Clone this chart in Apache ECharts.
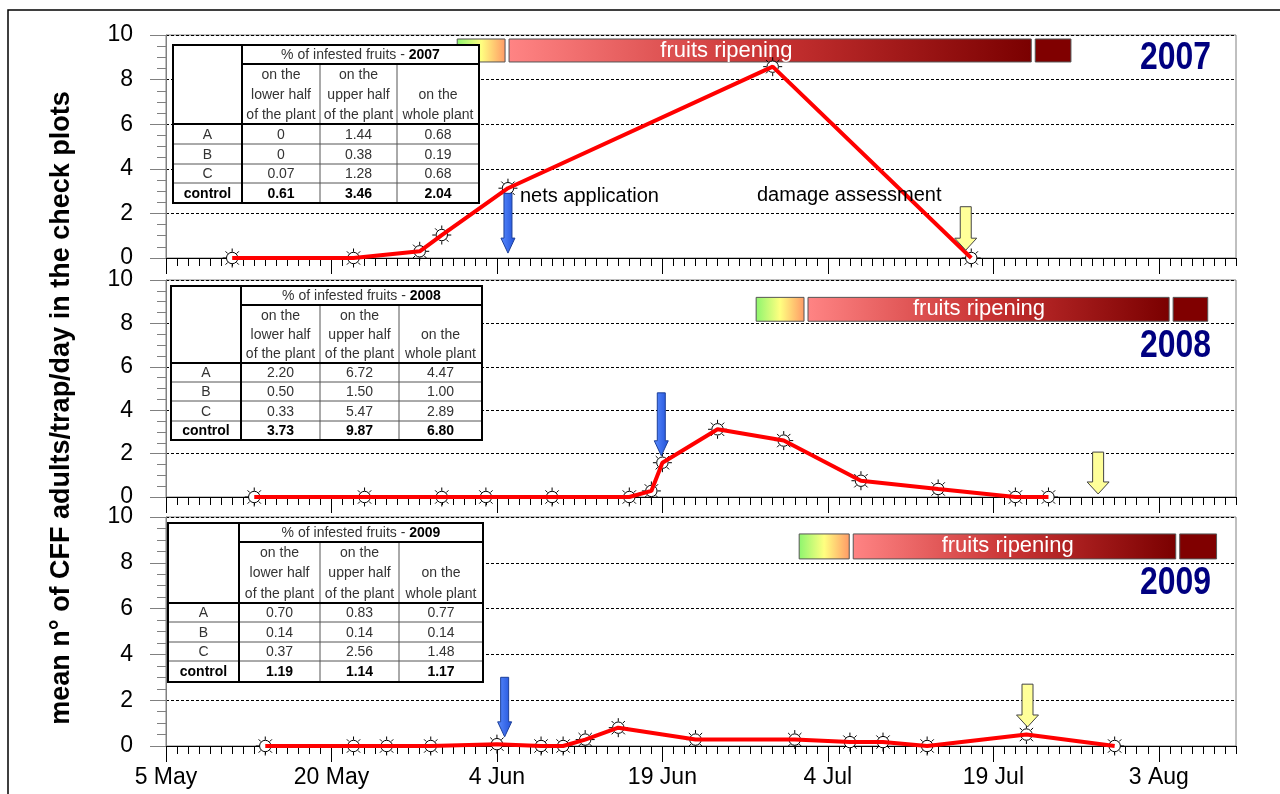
<!DOCTYPE html>
<html>
<head>
<meta charset="utf-8">
<script src="https://cdn.jsdelivr.net/npm/echarts@6/dist/echarts.min.js"></script>
<style>
  html, body { margin: 0; background: #fff; }
  #chart { width: 1280px; height: 794px; }
</style>
</head>
<body>
<div id="chart"></div>
<script>
// season day 0 = 5 May
var tickDays = [0, 15, 30, 45, 60, 75, 90];
var tickLabels = ['5 May', '20 May', '4 Jun', '19 Jun', '4 Jul', '19 Jul', '3 Aug'];

// mean n. of CFF adults/trap/day
var dates2007 = ['05-11', '05-22', '05-28', '05-30', '06-05', '06-29', '07-17'];
var cff2007 = [0, 0, 0.3, 1.03, 3.13, 8.58, 0];
var dates2008 = ['05-13', '05-23', '05-30', '06-03', '06-09', '06-16', '06-18', '06-19', '06-24', '06-30', '07-07', '07-14', '07-21', '07-24'];
var cff2008 = [0, 0, 0, 0, 0, 0, 0.28, 1.58, 3.12, 2.6, 0.75, 0.37, 0, 0];
var dates2009 = ['05-14', '05-22', '05-25', '05-29', '06-04', '06-08', '06-10', '06-12', '06-15', '06-22', '07-01', '07-06', '07-09', '07-13', '07-22', '07-30'];
var cff2009 = [0, 0, 0, 0, 0.08, 0, 0, 0.28, 0.8, 0.28, 0.28, 0.17, 0.17, 0, 0.5, 0];

// fruits ripening bar: [green start, red start, dark start, end] (days), [y low, y high], label day
var ripe2007 = [26.4, 31.1, 78.8, 82.4], ripeY2007 = [8.79, 9.82], ripeText2007 = 50.8;
var ripe2008 = [53.5, 58.2, 91.3, 94.8], ripeY2008 = [8.1, 9.2], ripeText2008 = 73.7;
var ripe2009 = [57.4, 62.3, 91.9, 95.6], ripeY2009 = [8.17, 9.26], ripeText2009 = 76.3;

// arrows: [day, y of tail, y of tip]
var nets2007 = [31.0, 2.9, 0.22], damage2007 = [72.5, 2.3, 0.35];
var nets2008 = [44.9, 4.8, 1.9], damage2008 = [84.5, 2.07, 0.14];
var nets2009 = [30.7, 3.0, 0.4], damage2009 = [78.1, 2.7, 0.83];

// % of infested fruits
var rowNames = ['A', 'B', 'C', 'control'];
var infested2007 = [['0', '1.44', '0.68'], ['0', '0.38', '0.19'], ['0.07', '1.28', '0.68'], ['0.61', '3.46', '2.04']];
var infested2008 = [['2.20', '6.72', '4.47'], ['0.50', '1.50', '1.00'], ['0.33', '5.47', '2.89'], ['3.73', '9.87', '6.80']];
var infested2009 = [['0.70', '0.83', '0.77'], ['0.14', '0.14', '0.14'], ['0.37', '2.56', '1.48'], ['1.19', '1.14', '1.17']];

var FONT = '"Liberation Sans", Arial, sans-serif';

function dayOf(md) {
  var p = md.split('-');
  return Math.round((Date.UTC(2001, +p[0] - 1, +p[1]) - Date.UTC(2001, 4, 5)) / 86400000);
}

var panels = [
  { year: '2007', dates: dates2007, vals: cff2007, ripe: ripe2007, ripeY: ripeY2007, ripeText: ripeText2007,
    arrows: [nets2007, damage2007], table: infested2007,
    grid: { top: 35, height: 223 }, yearY: 59,
    tbl: { cols: [173, 242, 320, 397, 479], rows: [45, 64, 124, 144, 164, 183, 203] } },
  { year: '2008', dates: dates2008, vals: cff2008, ripe: ripe2008, ripeY: ripeY2008, ripeText: ripeText2008,
    arrows: [nets2008, damage2008], table: infested2008,
    grid: { top: 280, height: 217 }, yearY: 347,
    tbl: { cols: [171, 241, 320, 399, 482], rows: [286, 305, 363, 382, 401, 421, 440] } },
  { year: '2009', dates: dates2009, vals: cff2009, ripe: ripe2009, ripeY: ripeY2009, ripeText: ripeText2009,
    arrows: [nets2009, damage2009], table: infested2009,
    grid: { top: 517, height: 229 }, yearY: 584,
    tbl: { cols: [168, 239, 320, 399, 483], rows: [523, 542, 603, 622, 642, 661, 682] } }
];

var markerPath = 'path://M16,10A6,6,0,1,1,4,10A6,6,0,1,1,16,10Z' +
  'M10,0L10,3.5M10,16.5L10,20M0,10L3.5,10M16.5,10L20,10M3,3L5.3,5.3M14.7,14.7L17,17M17,3L14.7,5.3M5.3,14.7L3,17';

var ripeFills = [
  { type: 'linear', x: 0, y: 0, x2: 1, y2: 0, colorStops: [
    { offset: 0, color: '#8cf56e' }, { offset: 0.5, color: '#ffff80' }, { offset: 1, color: '#ff9966' }] },
  { type: 'linear', x: 0, y: 0, x2: 1, y2: 0, colorStops: [
    { offset: 0, color: '#ff8484' }, { offset: 0.5, color: '#c83232' }, { offset: 1, color: '#7a0000' }] },
  '#800000'
];

function renderRipe(params, api) {
  var a = api.coord([api.value(0), api.value(3)]);
  var b = api.coord([api.value(1), api.value(2)]);
  var kind = api.value(4);
  var children = [{
    type: 'rect',
    shape: { x: a[0], y: a[1], width: b[0] - a[0] - 4, height: b[1] - a[1] },
    style: { fill: ripeFills[kind], stroke: '#555', lineWidth: 1 }
  }];
  if (kind === 1) {
    var t = api.coord([api.value(5), (api.value(2) + api.value(3)) / 2]);
    children.push({
      type: 'text', x: t[0], y: t[1],
      style: { text: 'fruits ripening', fill: '#fff', font: '22px ' + FONT, align: 'center', verticalAlign: 'middle' }
    });
  }
  return { type: 'group', children: children };
}

function renderArrow(params, api) {
  var tail = api.coord([api.value(0), api.value(1)]);
  var tip = api.coord([api.value(0), api.value(2)]);
  var yellow = api.value(3) === 1;
  var bw = yellow ? 5.5 : 4, hw = yellow ? 11 : 7, hl = yellow ? 12 : 15;
  var x = tip[0], yb = tip[1] - hl;
  return {
    type: 'polygon',
    shape: { points: [[x - bw, tail[1]], [x + bw, tail[1]], [x + bw, yb], [x + hw, yb], [x, tip[1]], [x - hw, yb], [x - bw, yb]] },
    style: {
      fill: yellow ? '#ffff99' : { type: 'linear', x: 0, y: 0, x2: 1, y2: 0, colorStops: [
        { offset: 0, color: '#5a8cff' }, { offset: 1, color: '#2050d8' }] },
      stroke: yellow ? '#444' : '#1c3f99', lineWidth: 1
    }
  };
}

function tableElements(t, year, rows) {
  var cx = t.cols, ry = t.rows, els = [];
  var thin = { stroke: '#555', lineWidth: 1 };
  var thick = { stroke: '#000', lineWidth: 2 };
  function line(x1, y1, x2, y2, st) {
    els.push({ type: 'line', z: 101, shape: { x1: x1, y1: y1, x2: x2, y2: y2 }, style: st });
  }
  function txt(x, y, s, bold) {
    els.push({ type: 'text', z: 102, x: x, y: y,
      style: { text: s, fill: bold ? '#000' : '#333', font: (bold ? 'bold ' : '') + '14px ' + FONT, align: 'center', verticalAlign: 'middle' } });
  }
  els.push({ type: 'rect', z: 100, shape: { x: cx[0], y: ry[0], width: cx[4] - cx[0], height: ry[6] - ry[0] },
    style: { fill: '#fff', stroke: null } });
  for (var r = 3; r <= 5; r++) line(cx[0], ry[r], cx[4], ry[r], thin);
  line(cx[2], ry[1], cx[2], ry[6], thin);
  line(cx[3], ry[1], cx[3], ry[6], thin);
  line(cx[1], ry[1], cx[4], ry[1], thick);
  line(cx[0], ry[2], cx[4], ry[2], thick);
  line(cx[1], ry[0], cx[1], ry[6], thick);
  els.push({ type: 'rect', z: 103, shape: { x: cx[0], y: ry[0], width: cx[4] - cx[0], height: ry[6] - ry[0] },
    style: { fill: null, stroke: '#000', lineWidth: 2 } });
  els.push({ type: 'text', z: 102, x: (cx[1] + cx[4]) / 2, y: (ry[0] + ry[1]) / 2 + 1,
    style: { text: '{n|% of infested fruits - }{b|' + year + '}', align: 'center', verticalAlign: 'middle',
      rich: { n: { font: '14px ' + FONT, fill: '#333' }, b: { font: 'bold 14px ' + FONT, fill: '#000' } } } });
  var heads = [['on the', 'lower half', 'of the plant'], ['on the', 'upper half', 'of the plant'], ['', 'on the', 'whole plant']];
  var lh = (ry[2] - ry[1]) / 3;
  for (var c = 0; c < 3; c++) {
    for (var k = 0; k < 3; k++) {
      if (heads[c][k]) txt((cx[c + 1] + cx[c + 2]) / 2, ry[1] + lh * (k + 0.5) + 1, heads[c][k], false);
    }
  }
  for (var i = 0; i < 4; i++) {
    var bold = i === 3, ym = (ry[i + 2] + ry[i + 3]) / 2 + 1;
    txt((cx[0] + cx[1]) / 2, ym, rowNames[i], bold);
    for (var j = 0; j < 3; j++) txt((cx[j + 1] + cx[j + 2]) / 2, ym, rows[i][j], bold);
  }
  return els;
}

var grids = [], xAxes = [], yAxes = [], series = [], graphics = [];

panels.forEach(function (p, i) {
  grids.push({ left: 166, right: 44, top: p.grid.top, height: p.grid.height,
    show: true, borderColor: '#808080', borderWidth: 1, backgroundColor: 'transparent' });
  // daily minor ticks
  xAxes.push({ type: 'value', gridIndex: i, position: 'bottom', min: 0, max: 97, interval: 1,
    axisLine: { show: true, onZero: false, lineStyle: { color: '#000', width: 1 } },
    axisTick: { show: true, length: 8, lineStyle: { color: '#000' } },
    axisLabel: { show: false }, splitLine: { show: false } });
  // major ticks and date labels
  xAxes.push({ type: 'value', gridIndex: i, position: 'bottom', min: 0, max: 97, interval: 15,
    axisLine: { show: false },
    axisTick: { show: true, length: 16, customValues: tickDays, lineStyle: { color: '#000' } },
    axisLabel: { show: i === 2, customValues: tickDays, margin: 20, fontSize: 23, fontFamily: FONT, color: '#000',
      formatter: function (v) { var k = tickDays.indexOf(v); return k >= 0 ? tickLabels[k] : ''; } },
    splitLine: { show: false } });
  yAxes.push({ type: 'value', gridIndex: i, min: 0, max: 10, interval: 2,
    axisLine: { show: true, lineStyle: { color: '#808080' } },
    axisTick: { show: true, length: 16, lineStyle: { color: '#808080' } },
    minorTick: { show: true, splitNumber: 4, length: 9, lineStyle: { color: '#808080' } },
    axisLabel: { margin: 33, fontSize: 23, fontFamily: FONT, color: '#000' },
    splitLine: { show: true, lineStyle: { color: '#000', type: [3, 2], width: 1 } } });

  var pts = p.dates.map(function (d, k) { return [dayOf(d), p.vals[k]]; });
  var xi = i * 2;

  series.push({ type: 'custom', xAxisIndex: xi, yAxisIndex: i, z: 1, renderItem: renderRipe, silent: true,
    data: [
      [p.ripe[0], p.ripe[1], p.ripeY[0], p.ripeY[1], 0, 0],
      [p.ripe[1], p.ripe[2], p.ripeY[0], p.ripeY[1], 1, p.ripeText],
      [p.ripe[2], p.ripe[3], p.ripeY[0], p.ripeY[1], 2, 0]
    ] });
  series.push({ type: 'scatter', xAxisIndex: xi, yAxisIndex: i, z: 2, data: pts,
    symbol: markerPath, symbolSize: 19,
    itemStyle: { color: '#fff', borderColor: '#000', borderWidth: 1, opacity: 1 } });
  series.push({ type: 'line', xAxisIndex: xi, yAxisIndex: i, z: 3, data: pts, showSymbol: false,
    lineStyle: { color: '#ff0000', width: 4 } });
  series.push({ type: 'custom', xAxisIndex: xi, yAxisIndex: i, z: 4, renderItem: renderArrow, silent: true,
    data: [p.arrows[0].concat([0]), p.arrows[1].concat([1])] });

  graphics.push({ type: 'text', z: 100, x: 1211, y: p.yearY, scaleX: 0.84,
    style: { text: p.year, fill: '#000080', font: 'bold 38px ' + FONT, align: 'right', verticalAlign: 'middle' } });
  graphics = graphics.concat(tableElements(p.tbl, p.year, p.table));
});

graphics.push({ type: 'text', z: 100, x: 520, y: 196,
  style: { text: 'nets application', fill: '#000', font: '20px ' + FONT, verticalAlign: 'middle' } });
graphics.push({ type: 'text', z: 100, x: 757, y: 195,
  style: { text: 'damage assessment', fill: '#000', font: '20px ' + FONT, verticalAlign: 'middle' } });
graphics.push({ type: 'text', z: 100, x: 62, y: 408, rotation: Math.PI / 2,
  style: { text: 'mean n\u00b0 of CFF adults/trap/day in the check plots', fill: '#000',
    font: 'bold 27px ' + FONT, align: 'center', verticalAlign: 'middle' } });
graphics.push({ type: 'rect', z: 100, shape: { x: 8, y: 10, width: 1400, height: 900 },
  style: { fill: null, stroke: '#000', lineWidth: 1.5 } });

var chart = echarts.init(document.getElementById('chart'));
chart.setOption({
  animation: false,
  backgroundColor: '#fff',
  grid: grids,
  xAxis: xAxes,
  yAxis: yAxes,
  series: series,
  graphic: { elements: graphics }
});
</script>
</body>
</html>
